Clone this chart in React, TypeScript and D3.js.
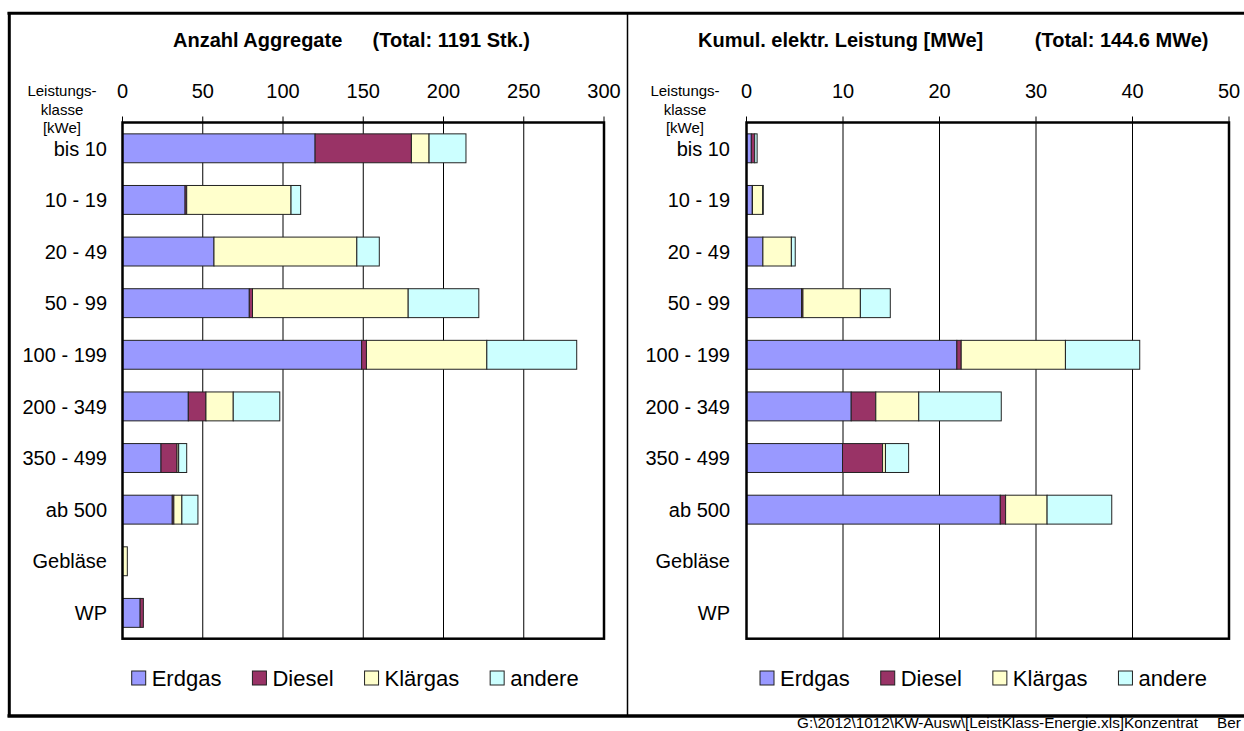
import React, { useRef, useEffect } from 'react';
import * as d3 from 'd3';

const categories = ['bis 10', '10 - 19', '20 - 49', '50 - 99', '100 - 199', '200 - 349', '350 - 499', 'ab 500', 'Gebläse', 'WP'];
const fuels = ['Erdgas', 'Diesel', 'Klärgas', 'andere'];
const fuelColors = ['#9999ff', '#993366', '#ffffcc', '#ccffff'];

// Anzahl Aggregate [Stk.]
const countErdgas = [120, 39, 57, 79, 149, 41, 24, 31, 0, 11];
const countDiesel = [60, 1, 0, 2, 3, 11, 10, 1, 0, 2];
const countKlaergas = [11, 65, 89, 97, 75, 17, 1, 5, 3, 0];
const countAndere = [23, 6, 14, 44, 56, 29, 5, 10, 0, 0];
const countTicks = [0, 50, 100, 150, 200, 250, 300];

// kumulierte elektr. Leistung [MWe]
const powerErdgas = [0.5, 0.6, 1.7, 5.7, 21.8, 10.85, 9.95, 26.3, 0, 0];
const powerDiesel = [0.35, 0.02, 0, 0.15, 0.45, 2.55, 4.15, 0.55, 0, 0];
const powerKlaergas = [0, 1.05, 2.95, 5.95, 10.8, 4.45, 0.3, 4.3, 0, 0];
const powerAndere = [0.25, 0.07, 0.4, 3.1, 7.7, 8.55, 2.4, 6.7, 0, 0];
const powerTicks = [0, 10, 20, 30, 40, 50];

const titleLeft = ['Anzahl Aggregate', '(Total: 1191 Stk.)'];
const titleRight = ['Kumul. elektr. Leistung [MWe]', '(Total: 144.6 MWe)'];
const footer = 'G:\\2012\\1012\\KW-Ausw\\[LeistKlass-Energie.xls]Konzentrat';

const FONT = '"Liberation Sans", Arial, sans-serif';

const drawPanel = (svg, cfg) => {
  const { series, ticks, x0, x1, labelRight, leistX, title, titleStart, titleEnd, legendX } = cfg;
  const y0 = 122.5;
  const y1 = 638.7;
  const g = svg.append('g');

  const xScale = d3.scaleLinear().domain([ticks[0], ticks[ticks.length - 1]]).range([x0, x1]);
  const yScale = d3.scaleBand().domain(categories).range([y0, y1]).paddingInner(0.44).paddingOuter(0.22);

  const rows = categories.map((c, i) => {
    const r = { cat: c };
    fuels.forEach((f, k) => (r[f] = series[k][i]));
    return r;
  });
  const stacked = d3.stack().keys(fuels)(rows);

  // gridlines
  g.append('g')
    .selectAll('line')
    .data(ticks.slice(1, -1))
    .enter()
    .append('line')
    .attr('x1', (d) => xScale(d))
    .attr('x2', (d) => xScale(d))
    .attr('y1', y0)
    .attr('y2', y1)
    .attr('stroke', '#000')
    .attr('stroke-width', 1);

  // tick marks + labels
  g.append('g')
    .selectAll('line')
    .data(ticks)
    .enter()
    .append('line')
    .attr('x1', (d) => xScale(d))
    .attr('x2', (d) => xScale(d))
    .attr('y1', y0 - 6)
    .attr('y2', y0)
    .attr('stroke', '#000')
    .attr('stroke-width', 1);
  g.append('g')
    .selectAll('text')
    .data(ticks)
    .enter()
    .append('text')
    .attr('x', (d) => xScale(d))
    .attr('y', 98)
    .attr('text-anchor', 'middle')
    .attr('font-size', 20)
    .text((d) => d);

  // bars
  stacked.forEach((layer, k) => {
    g.append('g')
      .selectAll('rect')
      .data(layer.filter((d) => d[1] - d[0] > 0))
      .enter()
      .append('rect')
      .attr('x', (d) => xScale(d[0]))
      .attr('width', (d) => xScale(d[1]) - xScale(d[0]))
      .attr('y', (d) => yScale(d.data.cat))
      .attr('height', yScale.bandwidth())
      .attr('fill', fuelColors[k])
      .attr('stroke', '#222')
      .attr('stroke-width', 1);
  });

  // plot border
  g.append('rect')
    .attr('x', x0)
    .attr('y', y0)
    .attr('width', x1 - x0)
    .attr('height', y1 - y0)
    .attr('fill', 'none')
    .attr('stroke', '#000')
    .attr('stroke-width', 2.5);

  // category labels
  g.append('g')
    .selectAll('text')
    .data(categories)
    .enter()
    .append('text')
    .attr('x', labelRight)
    .attr('y', (d) => yScale(d) + yScale.bandwidth() / 2)
    .attr('dy', '0.36em')
    .attr('text-anchor', 'end')
    .attr('font-size', 20)
    .text((d) => d);

  // axis caption
  [['Leistungs-', 95.5], ['klasse', 114.5], ['[kWe]', 132.5]].forEach(([t, yy]) => {
    g.append('text')
      .attr('x', leistX)
      .attr('y', yy)
      .attr('text-anchor', 'middle')
      .attr('font-size', 15)
      .text(t);
  });

  // title
  g.append('text')
    .attr('x', titleStart)
    .attr('y', 47)
    .attr('font-size', 20)
    .attr('font-weight', 'bold')
    .text(title[0]);
  g.append('text')
    .attr('x', titleEnd)
    .attr('y', 47)
    .attr('text-anchor', 'end')
    .attr('font-size', 20)
    .attr('font-weight', 'bold')
    .text(title[1]);

  // legend
  let lx = legendX;
  fuels.forEach((f, k) => {
    g.append('rect')
      .attr('x', lx)
      .attr('y', 671)
      .attr('width', 14)
      .attr('height', 14)
      .attr('fill', fuelColors[k])
      .attr('stroke', '#222')
      .attr('stroke-width', 1);
    const t = g
      .append('text')
      .attr('x', lx + 20)
      .attr('y', 685.5)
      .attr('font-size', 22)
      .text(f);
    lx += 20 + t.node().getComputedTextLength() + 31;
  });
};

export default function App() {
  const svgEl = useRef(null);

  useEffect(() => {
    const svg = d3.select(svgEl.current);
    svg.selectAll('*').remove();
    svg.attr('font-family', FONT);

    svg.append('rect').attr('width', 1244).attr('height', 731).attr('fill', '#fff');

    // outer frame
    svg.append('line').attr('x1', 7.5).attr('x2', 1244).attr('y1', 13.3).attr('y2', 13.3).attr('stroke', '#000').attr('stroke-width', 3);
    svg.append('line').attr('x1', 7.5).attr('x2', 1244).attr('y1', 716).attr('y2', 716).attr('stroke', '#000').attr('stroke-width', 3.5);
    svg.append('line').attr('x1', 9.3).attr('x2', 9.3).attr('y1', 12).attr('y2', 717).attr('stroke', '#000').attr('stroke-width', 3);
    svg.append('line').attr('x1', 627.5).attr('x2', 627.5).attr('y1', 13).attr('y2', 716).attr('stroke', '#000').attr('stroke-width', 1.5);

    drawPanel(svg, {
      series: [countErdgas, countDiesel, countKlaergas, countAndere],
      ticks: countTicks,
      x0: 122.5,
      x1: 604,
      labelRight: 107,
      leistX: 62,
      title: titleLeft,
      titleStart: 173,
      titleEnd: 530,
      legendX: 131.7,
    });
    drawPanel(svg, {
      series: [powerErdgas, powerDiesel, powerKlaergas, powerAndere],
      ticks: powerTicks,
      x0: 746.5,
      x1: 1229,
      labelRight: 730,
      leistX: 685,
      title: titleRight,
      titleStart: 698,
      titleEnd: 1208.5,
      legendX: 760,
    });

    // file path footer
    svg.append('text').attr('x', 797).attr('y', 727.5).attr('font-size', 15.3).text(footer);
    svg.append('text').attr('x', 1217).attr('y', 727.5).attr('font-size', 15.3).text('Ber');
  }, []);

  return (
    <div style={{ position: 'absolute', left: 0, top: 0 }}>
      <svg ref={svgEl} width={1244} height={731}></svg>
    </div>
  );
}
